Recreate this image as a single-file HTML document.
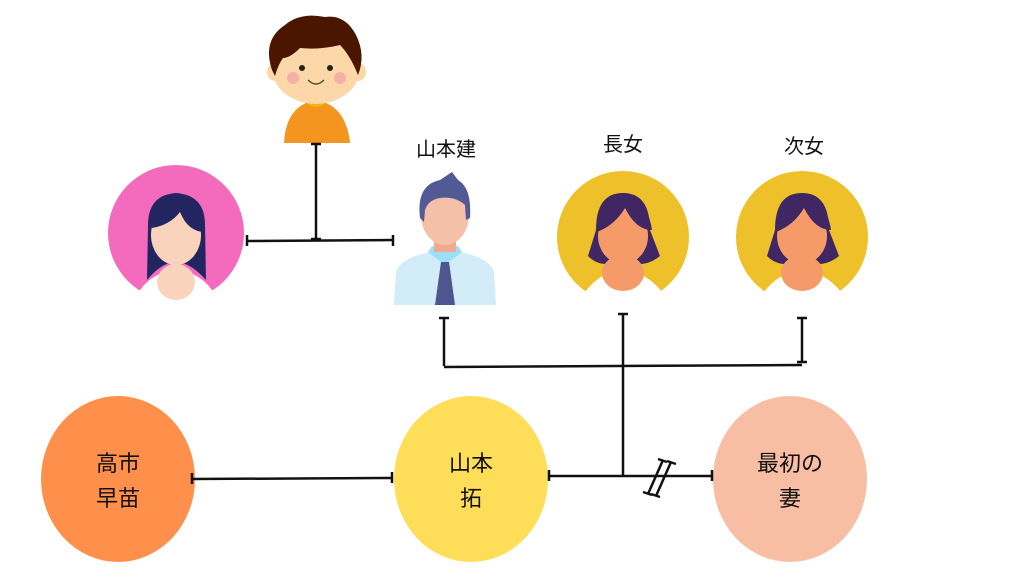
<!DOCTYPE html>
<html><head><meta charset="utf-8"><style>
html,body{margin:0;padding:0;background:#fff;}
svg{display:block}
text{font-family:"Liberation Sans","Noto Sans CJK JP",sans-serif;fill:#111;}
</style></head><body>
<svg width="1024" height="573" viewBox="0 0 1024 573" xmlns="http://www.w3.org/2000/svg">
<!-- boy -->
<g>
<path d="M284 143 Q286 105 316 100 Q346 105 350 143 Z" fill="#f3951f"/>
<path d="M305 102 Q316 112 327 102 L325 98 L307 98 Z" fill="#f1b418"/>
<ellipse cx="316" cy="68" rx="44" ry="36" fill="#fcd8a8"/>
<ellipse cx="275" cy="72" rx="8" ry="9" fill="#fcd8a8"/>
<ellipse cx="358" cy="72" rx="8" ry="9" fill="#fcd8a8"/>
<path d="M272 70 Q262 40 285 25 Q300 12 325 17 Q345 14 356 35 Q366 55 358 75 Q350 55 340 45 Q320 50 300 48 Q290 58 283 58 Q278 65 275 76 Z" fill="#4a1600"/>
<circle cx="302" cy="68" r="3" fill="#222"/><circle cx="330" cy="68" r="3" fill="#222"/>
<circle cx="293" cy="78" r="6" fill="#f7b0a8"/><circle cx="340" cy="78" r="6" fill="#f7b0a8"/>
<path d="M308 80 Q316 88 324 80" stroke="#552" stroke-width="1.5" fill="none"/>
</g>
<!-- pink woman -->
<circle cx="176" cy="233" r="68" fill="#f46bbd"/>
<path d="M148 225 Q148 195 176 193 Q205 195 205 225 L206 280 Q190 262 176 262 Q162 262 147 280 Z" fill="#232560"/>
<path d="M136 296 Q150 272 176 270 Q202 272 216 296 L216 310 L136 310 Z" fill="#fff"/>
<ellipse cx="176" cy="282" rx="19" ry="18" fill="#fad3bd"/>
<ellipse cx="176" cy="235" rx="25" ry="30" fill="#fad3bd"/>
<path d="M152 228 Q152 200 178 200 Q200 202 205 232 Q188 232 180 212 Q170 225 152 228 Z" fill="#232560"/>
<!-- man -->
<path d="M394 305 L396 272 Q400 258 430 252 L460 252 Q490 258 494 272 L496 305 Z" fill="#d2ecf8"/>
<path d="M428 252 L445 265 L462 252 L458 246 L432 246 Z" fill="#9ddff6"/>
<path d="M441 262 L449 262 L455 305 L435 305 Z" fill="#4f5590"/>
<rect x="434" y="232" width="22" height="20" fill="#f1aa90"/>
<ellipse cx="445" cy="215" rx="24" ry="30" fill="#f5c0a8"/>
<path d="M420 218 Q416 185 440 180 L452 172 L458 180 Q472 188 470 218 L466 220 L465 205 Q455 196 440 198 Q428 200 425 210 L424 222 Z" fill="#525a95"/>
<!-- daughters -->
<g id="d1">
<circle cx="623" cy="237" r="66" fill="#eec12a"/>
<path d="M596 230 Q596 193 623 193 Q650 193 650 230 L660 256 Q645 268 630 262 L616 262 Q600 268 588 256 Z" fill="#402763"/>
<path d="M585 292 Q600 272 623 270 Q646 272 662 292 L662 308 L585 308 Z" fill="#fff"/>
<ellipse cx="623" cy="273" rx="21" ry="18" fill="#f59b6a"/>
<ellipse cx="623" cy="236" rx="25" ry="28" fill="#f59b6a"/>
<path d="M597 232 Q597 199 625 199 Q648 201 652 230 Q636 230 625 208 Q615 225 597 232 Z" fill="#402763"/>
</g>
<use href="#d1" transform="translate(179,0)"/>
<!-- labels -->
<text x="446" y="156" font-size="20" text-anchor="middle">山本建</text>
<text x="623" y="151" font-size="20" text-anchor="middle">長女</text>
<text x="804" y="153" font-size="20" text-anchor="middle">次女</text>
<!-- bottom circles -->
<ellipse cx="118" cy="479" rx="77" ry="83" fill="#ff904b"/>
<ellipse cx="471" cy="479" rx="77" ry="83" fill="#fedd58"/>
<ellipse cx="790" cy="479" rx="77" ry="83" fill="#f7bea4"/>
<g font-size="22" text-anchor="middle">
<text x="118" y="471">高市</text><text x="118" y="506">早苗</text>
<text x="471" y="471">山本</text><text x="471" y="506">拓</text>
<text x="790" y="471">最初の</text><text x="790" y="506">妻</text>
</g>
<!-- lines -->
<g stroke="#111" stroke-width="2.5" fill="none">
<line x1="316" y1="144" x2="316" y2="239"/><line x1="311" y1="144" x2="321" y2="144"/><line x1="311" y1="239" x2="321" y2="239"/>
<line x1="247" y1="241" x2="393" y2="240"/><line x1="247" y1="235" x2="247" y2="246"/><line x1="393" y1="235" x2="393" y2="246"/>
<line x1="444" y1="318" x2="444" y2="366"/><line x1="439" y1="318" x2="449" y2="318"/>
<line x1="623" y1="314" x2="623" y2="475"/><line x1="618" y1="314" x2="628" y2="314"/>
<line x1="802" y1="318" x2="802" y2="362"/><line x1="797" y1="318" x2="807" y2="318"/><line x1="797" y1="362" x2="807" y2="362"/>
<line x1="444" y1="367" x2="802" y2="365"/>
<line x1="192" y1="479" x2="392" y2="478"/><line x1="192" y1="473" x2="192" y2="484"/><line x1="392" y1="472" x2="392" y2="483"/>
<line x1="549" y1="476" x2="712" y2="476"/><line x1="549" y1="470" x2="549" y2="481"/><line x1="712" y1="470" x2="712" y2="481"/>
<line x1="663" y1="460" x2="648" y2="494"/><line x1="671" y1="462" x2="656" y2="496"/>
<line x1="658" y1="459" x2="667" y2="462"/><line x1="667" y1="461" x2="676" y2="464"/>
<line x1="643" y1="492" x2="652" y2="495"/><line x1="651" y1="494" x2="660" y2="497"/>
</g>
</svg>
</body></html>
